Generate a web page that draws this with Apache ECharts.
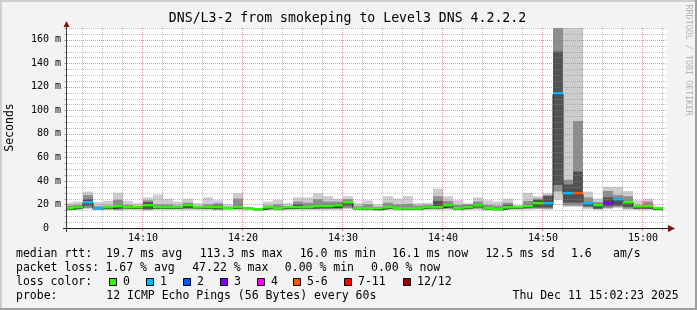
<!DOCTYPE html>
<html><head><meta charset="utf-8">
<script src="https://cdn.jsdelivr.net/npm/echarts@6/dist/echarts.min.js"></script>
<style>html,body{margin:0;padding:0;background:#f3f3f3}#c{width:697px;height:310px}</style>
</head><body><div id="c"></div>
<script>
// ---- data (minutes after 14:00, values in ms) ----
const minutes = [2,3,4,5,6,7,8,9,10,11,12,13,14,15,16,17,18,19,20,21,22,23,24,25,26,27,28,29,30,31,32,33,34,35,36,37,38,39,40,41,42,43,44,45,46,47,48,49,50,51,52,53,54,55,56,57,58,59,60,61];
const smokeLo = [15,15.5,16,15.5,15.5,15,15.5,15.5,15,15.5, 15.5,15.5,15.5,15.5,15.5,15,15.5,15.5,15.5,14.5, 15.5,15,15.5,15.5,15.5,15.5,15.5,15.5,16,15.5, 15,14.5,15.5,15,15,15,15.5,15.5,15.5,15, 15.5,15.5,15,14.5,15.5,15.5,15.5,16,15.5,24, 18,18,16,15.5,16,17,15.5,15.5,15.5,15];
const midLo = [15.5,16,17,16,16,15.5,16,16,15.5,16, 16,16,16,16,16,15.5,16,16,15.8,15, 16,15.5,16,16,16,16,16,16,17,15.8, 15.5,15,16,15.5,15.5,15.5,16,16,16.5,15.5, 16,16.5,15.5,15,16,16,16.5,16.5,16.5,31, 19,19,17.5,16,17,18,16.5,16,16,15.3];
const darkLo = [16,16.5,19,16.2,16.3,16.5,16.3,16.3,16,16.3, 16.3,16.3,17,16.3,16.3,16,16.3,16.5,16,15.2, 16.3,16,16.3,16.5,16.5,16.8,16.8,17,19,16, 16,15.5,16.5,16,16,16,16.5,16.5,17.5,16, 16.5,17.5,16,15.3,16.5,16.5,17,17.5,17.5,36.5, 21.5,21.5,18.5,16.5,18.5,19,18,16.3,16.3,15.5];
const darkHi = [16.8,17.5,24.5,17,17,18.5,17,17,22,17.5, 17.5,17,19.5,17,17.5,19,17,18.5,16.8,15.8, 17,17,17.2,20,18.5,19.5,19.5,20.5,23,16.8, 17,16.5,18.5,17.5,17.5,17,18,23,20,17.5, 19,20,17,16.5,19.5,17.5,19,24,27,150, 37,48,22,18.5,26,25,23,17.5,18.5,16.5];
const midHi = [19,19.5,28,18.5,19,24,19.5,18.5,23.5,20, 20,19,21.5,18.5,20,21,18,25,17.2,16.2, 19,20,18.5,22.5,21.5,24.5,22.5,22.5,24.5,18.5, 20,18,21.5,20,20.5,19,19.5,27,23,19.5, 20,22.5,19.5,19,21.5,18.5,23,25,28,172, 41,91,26,22,31.5,28,27,19.5,22.5,17.2];
const smokeHi = [21.5,22.5,31,22,23,30,23,21,26,28.5, 25,22.5,25,21,26,23.5,20,29.5,17.5,17, 22.5,24,21,26,26,29.5,27,25,27,21, 23.5,20,27,25,27,21,21.5,33.5,27,23.5, 21,26,23.5,22.5,25,19.5,30,27,29.5,172, 172,172,31,25,35,35,31.5,23.5,25,18];
const medianRtt = [16,16.8,21.5,16.3,16.6,17.5,16.7,16.7,18.8,16.8, 16.8,16.7,18.5,16.8,16.6,16.8,16.5,16.8,16.5,15.6, 16.6,16.3,16.6,16.8,17,17.5,17.5,18.5,21.5,16.3, 16.3,15.8,17,16.3,16.3,16.3,17.3,17,18.5,16.3, 16.7,19,16.3,15.5,17,17,18,20.5,20,113.5, 29,28.7,20.8,18.5,20.5,24,21.5,18,18,16];
const lossIdx = [0,0,1,1,0,0,0,0,0,0, 0,0,0,0,0,0,0,0,0,0, 0,0,0,0,0,0,0,0,0,0, 0,0,0,0,0,0,0,0,0,0, 0,0,0,0,0,0,0,0,1,1, 1,5,1,0,3,1,0,0,0,0];
const lossColors = ['#26ff00','#00b8ff','#0059ff','#7e00ff','#ff00ff','#ff5500','#ff0000','#a10000'];
const lossLabels = ['0','1','2','3','4','5-6','7-11','12/12'];
const xTickValues = [10,20,30,40,50,60];
const xTickLabels = ['14:10','14:20','14:30','14:40','14:50','15:00'];
const xMinor = [4,6,8,12,14,16,18,22,24,26,28,32,34,36,38,42,44,46,48,52,54,56,58,62];
const yMajor = [20,40,60,80,100,120,140,160];
const yMinor = [5,10,15,25,30,35,45,50,55,65,70,75,85,90,95,105,110,115,125,130,135,145,150,155,165,170];
const titleText = 'DNS/L3-2 from smokeping to Level3 DNS 4.2.2.2';
const row1Text = ['median rtt:','19.7 ms avg','113.3 ms max','16.0 ms min','16.1 ms now','12.5 ms sd','1.6','am/s'];
const row2Text = ['packet loss:','1.67 % avg','47.22 % max','0.00 % min','0.00 % now'];
const row3Text = 'loss color:';
const row4Text = ['probe:','12 ICMP Echo Pings (56 Bytes) every 60s','Thu Dec 11 15:02:23 2025'];

// ---- layout / style ----
const FONT = 'DejaVu Sans Mono';
const row1X = [16,106,199.7,299.7,392,485.4,571,613];
const row2X = [16,105.5,192.2,284.8,371];
const row4X = [16,106.3,512.5];
const boxX = [109.5,146.5,183.5,220.5,257.5,293.5,344.5,403.5];
const MAJOR = 'rgba(224,80,80,0.6)';
const MINOR = 'rgba(143,143,143,0.55)';

const chart = echarts.init(document.getElementById('c'), null, {width:697, height:310});

const barData = minutes.map((m,i)=>[m, smokeLo[i], midLo[i], darkLo[i], darkHi[i], midHi[i], smokeHi[i], medianRtt[i], lossIdx[i]]);
const stepData = minutes.map((m,i)=>[m, medianRtt[i]]).concat([[minutes[minutes.length-1]+1, medianRtt[medianRtt.length-1]]]);
const gridData = [].concat(xTickValues.map(v=>[0,v]), xMinor.map(v=>[1,v]), yMajor.map(v=>[2,v]), yMinor.map(v=>[3,v]), [[4,0]]);

function renderSmoke(params, api){
  const t = api.value(0);
  const xa = Math.round(api.coord([t,0])[0]), xb = Math.round(api.coord([t+1,0])[0]);
  const rect = (lo, hi, fill) => {
    const y0 = api.coord([t, lo])[1], y1 = api.coord([t, hi])[1];
    return {type:'rect', shape:{x:xa, y:y1, width:xb-xa, height:y0-y1}, style:{fill:fill}};
  };
  return {type:'group', children:[
    rect(api.value(1), api.value(6), '#cdcdcd'),
    rect(api.value(2), api.value(5), '#8e8e8e'),
    rect(api.value(3), api.value(4), '#525252')
  ]};
}
function renderMedian(params, api){
  const t = api.value(0);
  const xa = Math.round(api.coord([t,0])[0]), xb = Math.round(api.coord([t+1,0])[0]);
  const y = Math.round(api.coord([t, api.value(7)])[1]);
  return {type:'rect', shape:{x:xa, y:y-2, width:xb-xa, height:2.5}, style:{fill:lossColors[api.value(8)]}};
}
function renderGrid(params, api){
  const cs = params.coordSys;
  const kind = api.value(0), v = api.value(1);
  const left = cs.x, right = cs.x + cs.width, top = cs.y, bottom = cs.y + cs.height;
  if (kind === 0 || kind === 1){
    const x = Math.round(api.coord([v,0])[0]) - 0.5;
    const col = kind === 0 ? MAJOR : MINOR;
    return {type:'group', children:[
      {type:'line', shape:{x1:x,y1:top,x2:x,y2:bottom}, style:{stroke:col, lineWidth:1, lineDash:[1,1]}},
      {type:'line', shape:{x1:x,y1:bottom+1,x2:x,y2:bottom+3}, style:{stroke:col, lineWidth:1}}
    ]};
  }
  if (kind === 2 || kind === 3){
    const y = Math.round(api.coord([10,v])[1]) + 0.5;
    const col = kind === 2 ? MAJOR : MINOR;
    return {type:'group', children:[
      {type:'line', shape:{x1:left,y1:y,x2:right,y2:y}, style:{stroke:col, lineWidth:1, lineDash:[1,1]}},
      {type:'line', shape:{x1:left-3,y1:y,x2:left-1,y2:y}, style:{stroke:col, lineWidth:1}}
    ]};
  }
  const ya = bottom + 0.5, xa = left - 0.5;
  return {type:'group', children:[
    {type:'line', shape:{x1:left-4,y1:ya,x2:right+1,y2:ya}, style:{stroke:'#202020', lineWidth:1}},
    {type:'polygon', shape:{points:[[right+1,ya-3.5],[right+8,ya],[right+1,ya+3.5]]}, style:{fill:'#801010'}},
    {type:'line', shape:{x1:xa,y1:bottom+4,x2:xa,y2:top-1}, style:{stroke:'#404040', lineWidth:1}},
    {type:'polygon', shape:{points:[[xa-3,top-1],[xa,top-7],[xa+3,top-1]]}, style:{fill:'#801010'}}
  ]};
}

const graphics = [];
function txt(text, x, y, size, extra){
  graphics.push(Object.assign({type:'text', x:x, y:y, silent:true, z:100,
    style:{text:text, fill:'#000', fontSize:size, fontFamily:FONT, align:'left', verticalAlign:'middle'}}, extra||{}));
}
txt(titleText, 347.5, 19, 13.2, {style:{text:titleText, fill:'#000', fontSize:13.2, fontFamily:FONT, align:'center', verticalAlign:'middle'}});
row1Text.forEach((s,i)=>txt(s, row1X[i], 254, 11.5));
row2Text.forEach((s,i)=>txt(s, row2X[i], 268, 11.5));
txt(row3Text, 16, 282, 11.5);
lossLabels.forEach((s,i)=>{
  graphics.push({type:'rect', silent:true, z:100, shape:{x:boxX[i], y:278.5, width:7, height:7}, style:{fill:lossColors[i], stroke:'#000', lineWidth:1}});
  txt(s, boxX[i]+13.5, 282, 11.5);
});
row4Text.forEach((s,i)=>txt(s, row4X[i], 296, 11.5));
graphics.push({type:'text', x:10.5, y:127.5, rotation:Math.PI/2, silent:true, z:100,
  style:{text:'Seconds', fill:'#000', fontSize:11.5, fontFamily:FONT, align:'center', verticalAlign:'middle'}});
graphics.push({type:'text', x:688, y:60, rotation:-Math.PI/2, silent:true, z:100,
  style:{text:'RRDTOOL / TOBI OETIKER', fill:'#b4b4b4', fontSize:8.4, fontFamily:FONT, align:'center', verticalAlign:'middle'}});
// frame shading
graphics.push({type:'line', silent:true, z:100, shape:{x1:0,y1:1,x2:697,y2:1}, style:{stroke:'#cfcfcf', lineWidth:2}});
graphics.push({type:'line', silent:true, z:100, shape:{x1:1,y1:0,x2:1,y2:310}, style:{stroke:'#cfcfcf', lineWidth:2}});
graphics.push({type:'line', silent:true, z:100, shape:{x1:0,y1:309,x2:697,y2:309}, style:{stroke:'#9e9e9e', lineWidth:2}});
graphics.push({type:'line', silent:true, z:100, shape:{x1:696,y1:0,x2:696,y2:310}, style:{stroke:'#9e9e9e', lineWidth:2}});

chart.setOption({
  animation:false,
  backgroundColor:'#f3f3f3',
  grid:{left:67, top:28, width:600, height:200, show:true, backgroundColor:'#ffffff', borderWidth:0},
  xAxis:{type:'value', min:2.4, max:62.4,
    axisLine:{show:false}, axisTick:{show:false}, splitLine:{show:false},
    axisLabel:{customValues:xTickValues, formatter:v=>xTickLabels[xTickValues.indexOf(Math.round(v))] || '',
      fontFamily:FONT, fontSize:10, color:'#000', margin:5}},
  yAxis:{type:'value', min:0, max:170, interval:20,
    axisLine:{show:false}, axisTick:{show:false}, splitLine:{show:false},
    axisLabel:{formatter:v=> v===0 ? '0  ' : (yMajor.indexOf(v) >= 0 ? v + ' m' : ''),
      fontFamily:FONT, fontSize:10, color:'#000', margin:6, showMinLabel:true, showMaxLabel:true}},
  graphic:graphics,
  series:[
    {type:'custom', name:'smoke', renderItem:renderSmoke, data:barData, clip:true, z:2, silent:true, encode:{x:0, y:6}},
    {type:'line', name:'median', data:stepData, step:'end', showSymbol:false, symbol:'none', z:3, silent:true,
      lineStyle:{color:'#202020', width:1}},
    {type:'custom', name:'loss', renderItem:renderMedian, data:barData, clip:true, z:4, silent:true, encode:{x:0, y:7}},
    {type:'custom', name:'grid', renderItem:renderGrid, data:gridData, clip:false, z:5, silent:true}
  ]
});
</script>
</body></html>
